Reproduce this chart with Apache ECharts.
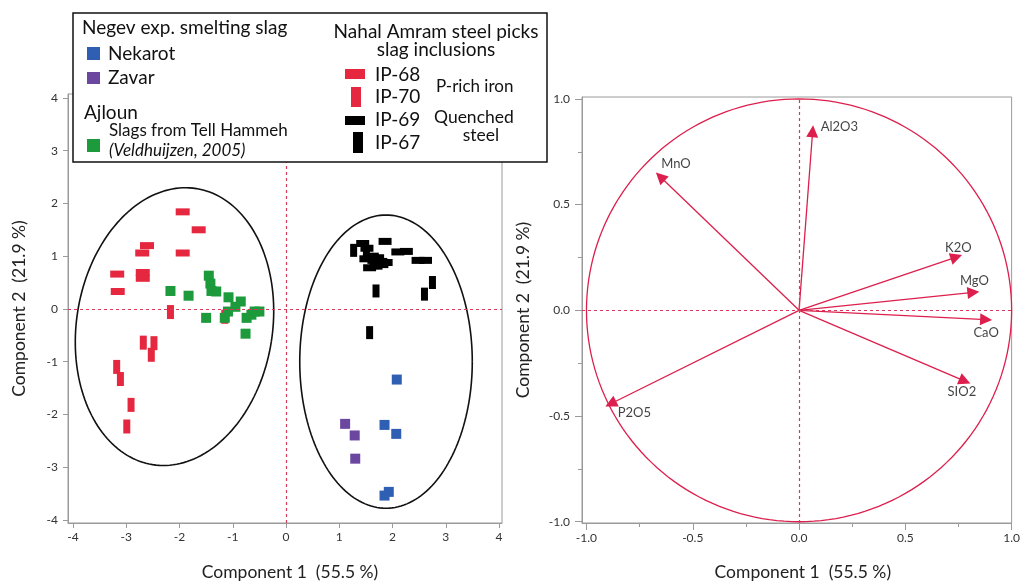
<!DOCTYPE html>
<html>
<head>
<meta charset="utf-8">
<script src="https://cdn.jsdelivr.net/npm/echarts@6/dist/echarts.min.js"></script>
<style>
  html, body { margin: 0; padding: 0; background: #fff; }
  #chart { width: 1023px; height: 586px; }
</style>
</head>
<body>
<div id="chart"></div>
<script>
// ---- PCA scores (component 1, component 2) ----
const ip68 = [[-1.94, 1.84], [-1.64, 1.50], [-2.61, 1.20], [-2.70, 1.06], [-1.94, 1.06],
              [-3.17, 0.66], [-2.69, 0.69], [-2.69, 0.58], [-3.16, 0.33]];
const ip70 = [[-2.17, -0.06], [-1.15, -0.15], [-2.68, -0.64], [-2.48, -0.65], [-2.53, -0.87],
              [-3.18, -1.10], [-3.11, -1.33], [-2.91, -1.82], [-2.99, -2.23]];
const ip69 = [[1.44, 1.24], [1.86, 1.28], [2.10, 1.08], [2.26, 1.09], [2.48, 0.92], [2.62, 0.92],
              [1.72, 0.97], [1.88, 0.88], [1.69, 0.81], [1.57, 0.78], [1.62, 1.00], [1.78, 0.90],
              [1.52, 1.15], [1.65, 0.92], [1.80, 0.84], [1.50, 0.95]];
const ip67 = [[1.27, 1.11], [1.51, 1.03], [1.69, 0.34], [2.75, 0.50], [2.60, 0.28], [1.57, -0.45]];
const nekarot = [[2.08, -1.34], [1.85, -2.20], [2.07, -2.37], [1.93, -3.47], [1.85, -3.54]];
const zavar = [[1.11, -2.18], [1.29, -2.40], [1.30, -2.84]];
const tellHammeh = [[-2.17, 0.34], [-1.83, 0.25], [-1.45, 0.63], [-1.42, 0.48], [-1.40, 0.34],
                    [-1.31, 0.33], [-1.08, 0.22], [-0.85, 0.14], [-0.95, 0.04], [-1.09, -0.05],
                    [-1.15, -0.17], [-1.50, -0.17], [-0.59, -0.05], [-0.50, -0.05], [-0.65, -0.11],
                    [-0.74, -0.17], [-0.76, -0.47]];

// group ellipses: centre x, centre y, half-width, half-height, tilt (deg, clockwise)
const groupEllipses = [[-2.094, -0.336, 1.84, 2.65, 9], [1.878, -1.00, 1.62, 2.78, 0]];

// ---- PCA loadings ----
const loadingNames = ['Al2O3', 'MnO', 'K2O', 'MgO', 'CaO', 'SIO2', 'P2O5'];
const loadingC1 = [0.064, -0.653, 0.740, 0.820, 0.880, 0.780, -0.886];
const loadingC2 = [0.847, 0.632, 0.252, 0.085, -0.044, -0.335, -0.442];
const unitCircle = [[0, 0, 1, 1, 0]];

// ---- axis ticks ----
const scoreTicks = [-4, -3, -2, -1, 0, 1, 2, 3, 4];
const loadTicks = [-1, -0.5, 0, 0.5, 1];
const loadMinorTicks = [-0.75, -0.25, 0.25, 0.75];

// ---- legend texts ----
const legendNegev = ['Negev exp. smelting slag', 'Nekarot', 'Zavar'];
const legendAjloun = ['Ajloun', 'Slags from Tell Hammeh', '(Veldhuijzen, 2005)'];
const legendAmram = ['Nahal Amram steel picks', 'slag inclusions', 'IP-68', 'IP-70', 'IP-69', 'IP-67'];
const legendNotes = ['P-rich iron', 'Quenched', 'steel'];
const xTitle = 'Component 1  (55.5 %)';
const yTitle = 'Component 2  (21.9 %)';

const RED = '#e5283f', BLACK = '#000', BLUE = '#2f5fb3', PURPLE = '#6b47a0', GREEN = '#1c9a3c';
const LINE_RED = '#dc1f4c';
const FONT = 'Lato';

function ellipseRender(color, width) {
  return function (params, api) {
    const c = api.coord([api.value(0), api.value(1)]);
    const s = api.size([api.value(2), api.value(3)]);
    const th = api.value(4) * Math.PI / 180;
    const pts = [];
    for (let i = 0; i <= 180; i++) {
      const t = i / 180 * Math.PI * 2;
      const ex = s[0] * Math.cos(t), ey = s[1] * Math.sin(t);
      pts.push([c[0] + ex * Math.cos(th) - ey * Math.sin(th), c[1] + ex * Math.sin(th) + ey * Math.cos(th)]);
    }
    return { type: 'polyline', shape: { points: pts }, style: { stroke: color, lineWidth: width, fill: null } };
  };
}

const axisGray = '#9a9a9a';
const labelStyle = { color: '#333', fontFamily: FONT, fontSize: 12 };
const titleStyle = { color: '#222', fontFamily: FONT, fontSize: 17.5 };

function dashLines(xi, yi) {
  return {
    type: 'scatter', xAxisIndex: xi, yAxisIndex: yi, data: [], silent: true, z: 1,
    markLine: {
      silent: true, symbol: 'none', animation: false, label: { show: false },
      lineStyle: { color: '#d8385a', type: [3, 3], width: 1.2 },
      data: [{ xAxis: 0 }, { yAxis: 0 }]
    }
  };
}

function scoreSeries(data, color, size) {
  return { type: 'scatter', xAxisIndex: 0, yAxisIndex: 0, data: data, symbol: 'rect', symbolSize: size,
           itemStyle: { color: color, opacity: 1 }, animation: false, z: 3 };
}

const labelPlace = {
  'Al2O3': ['right', [3, -4]], 'MnO': ['right', [-4, -13]], 'K2O': ['top', [2, 2]],
  'MgO': ['top', [1, 0]], 'CaO': ['bottom', [0, 2]], 'SIO2': ['bottom', [-3, -1]], 'P2O5': ['right', [2, 9]]
};

const chart = echarts.init(document.getElementById('chart'), null, { renderer: 'canvas' });

// legend graphic
const lg = [];
const txt = (x, y, text, size, extra) => lg.push(Object.assign({
  type: 'text', x: x, y: y, z: 101,
  style: Object.assign({ text: text, fontFamily: FONT, fontSize: size, fill: '#111', verticalAlign: 'middle', align: 'left' }, extra || {})
}));
const box = (x, y, w, h, color) => lg.push({ type: 'rect', z: 101, shape: { x: x, y: y, width: w, height: h }, style: { fill: color } });
lg.push({ type: 'rect', z: 100, shape: { x: 73, y: 13, width: 474, height: 149 }, style: { fill: '#fff', stroke: '#111', lineWidth: 1.5 } });
txt(82, 28, legendNegev[0], 19);
box(87, 47, 13, 13, BLUE);   txt(108, 54, legendNegev[1], 19);
box(87, 72, 13, 12, PURPLE); txt(108, 78, legendNegev[2], 19);
txt(84, 113, legendAjloun[0], 19);
txt(109, 131, legendAjloun[1], 17);
box(87, 139, 13, 13, GREEN);
txt(109, 151, legendAjloun[2], 17, { fontStyle: 'italic' });
txt(436, 32, legendAmram[0], 19, { align: 'center' });
txt(436, 50, legendAmram[1], 19, { align: 'center' });
box(345, 69, 20, 10, RED);   txt(375, 75, legendAmram[2], 19);
box(351, 87, 10, 20, RED);   txt(375, 97, legendAmram[3], 19);
box(345, 116, 20, 9, BLACK); txt(375, 120, legendAmram[4], 19);
box(353, 132, 10, 21, BLACK); txt(375, 143, legendAmram[5], 19);
txt(436, 87, legendNotes[0], 17);
txt(434, 117, legendNotes[1], 17.5);
txt(481, 135, legendNotes[2], 17.5, { align: 'center' });

const option = {
  backgroundColor: '#fff',
  animation: false,
  grid: [
    { left: 68, top: 94, width: 434, height: 435, show: true, borderColor: axisGray, borderWidth: 1, backgroundColor: '#fff' },
    { left: 582, top: 97, width: 431, height: 431, show: true, borderColor: axisGray, borderWidth: 1, backgroundColor: '#fff' }
  ],
  xAxis: [
    { type: 'value', gridIndex: 0, min: -4.094, max: 4.056, position: 'bottom',
      name: xTitle, nameLocation: 'middle', nameGap: 40, nameTextStyle: Object.assign({ padding: [0, 0, 0, 10] }, titleStyle),
      axisLine: { show: true, onZero: false, lineStyle: { color: axisGray } },
      axisTick: { show: true, length: 5, lineStyle: { color: axisGray }, customValues: scoreTicks },
      axisLabel: Object.assign({ customValues: scoreTicks, margin: 8 }, labelStyle),
      splitLine: { show: false } },
    { type: 'value', gridIndex: 1, min: -1.021, max: 1.0, position: 'bottom',
      name: xTitle, nameLocation: 'middle', nameGap: 40, nameTextStyle: Object.assign({ padding: [0, 0, 0, 12] }, titleStyle),
      axisLine: { show: true, onZero: false, lineStyle: { color: axisGray } },
      axisTick: { show: true, length: 7, lineStyle: { color: axisGray }, customValues: loadTicks },
      axisLabel: Object.assign({ customValues: loadTicks, margin: 9, formatter: v => v.toFixed(1) }, labelStyle),
      splitLine: { show: false } },
    { type: 'value', gridIndex: 1, min: -1.021, max: 1.0, position: 'bottom',
      axisLine: { show: false, onZero: false },
      axisTick: { show: true, length: 4, lineStyle: { color: axisGray }, customValues: loadMinorTicks },
      axisLabel: { show: false }, splitLine: { show: false } }
  ],
  yAxis: [
    { type: 'value', gridIndex: 0, min: -4.06, max: 4.075, position: 'left',
      name: yTitle, nameLocation: 'middle', nameGap: 40, nameTextStyle: titleStyle,
      axisLine: { show: true, onZero: false, lineStyle: { color: axisGray } },
      axisTick: { show: true, length: 5, lineStyle: { color: axisGray }, customValues: scoreTicks },
      axisLabel: Object.assign({ customValues: scoreTicks, margin: 10 }, labelStyle),
      splitLine: { show: false } },
    { type: 'value', gridIndex: 1, min: -1.006, max: 1.009, position: 'left',
      name: yTitle, nameLocation: 'middle', nameGap: 50, nameTextStyle: titleStyle,
      axisLine: { show: true, onZero: false, lineStyle: { color: axisGray } },
      axisTick: { show: true, length: 7, lineStyle: { color: axisGray }, customValues: loadTicks },
      axisLabel: Object.assign({ customValues: loadTicks, margin: 12, formatter: v => v.toFixed(1) }, labelStyle),
      splitLine: { show: false } },
    { type: 'value', gridIndex: 1, min: -1.006, max: 1.009, position: 'left',
      axisLine: { show: false, onZero: false },
      axisTick: { show: true, length: 4, lineStyle: { color: axisGray }, customValues: loadMinorTicks },
      axisLabel: { show: false }, splitLine: { show: false } }
  ],
  graphic: lg,
  series: [
    dashLines(0, 0),
    { type: 'custom', xAxisIndex: 0, yAxisIndex: 0, data: groupEllipses, renderItem: ellipseRender('#111', 1.6), silent: true, z: 2 },
    scoreSeries(ip68, RED, [14, 7]),
    scoreSeries(ip70, RED, [7, 14]),
    scoreSeries(tellHammeh, GREEN, 10),
    scoreSeries(ip69, BLACK, [13, 7]),
    scoreSeries(ip67, BLACK, [7, 13]),
    scoreSeries(nekarot, BLUE, 10),
    scoreSeries(zavar, PURPLE, 10),

    dashLines(1, 1),
    { type: 'custom', xAxisIndex: 1, yAxisIndex: 1, data: unitCircle, renderItem: ellipseRender(LINE_RED, 1.3), silent: true, z: 2 },
    { type: 'lines', coordinateSystem: 'cartesian2d', xAxisIndex: 1, yAxisIndex: 1, z: 3,
      symbol: ['none', 'triangle'], symbolSize: 12,
      lineStyle: { color: LINE_RED, width: 1.3, opacity: 1, curveness: 0 },
      itemStyle: { color: LINE_RED },
      data: loadingNames.map((n, i) => ({ coords: [[0, 0], [loadingC1[i], loadingC2[i]]] })) },
    { type: 'scatter', xAxisIndex: 1, yAxisIndex: 1, symbolSize: 0, z: 4, silent: true,
      data: loadingNames.map((n, i) => ({
        value: [loadingC1[i], loadingC2[i]], name: n,
        label: { show: true, formatter: n, position: labelPlace[n][0], offset: labelPlace[n][1],
                 color: '#111', fontFamily: FONT, fontSize: 13 }
      })) }
  ]
};
chart.setOption(option);
</script>
</body>
</html>
